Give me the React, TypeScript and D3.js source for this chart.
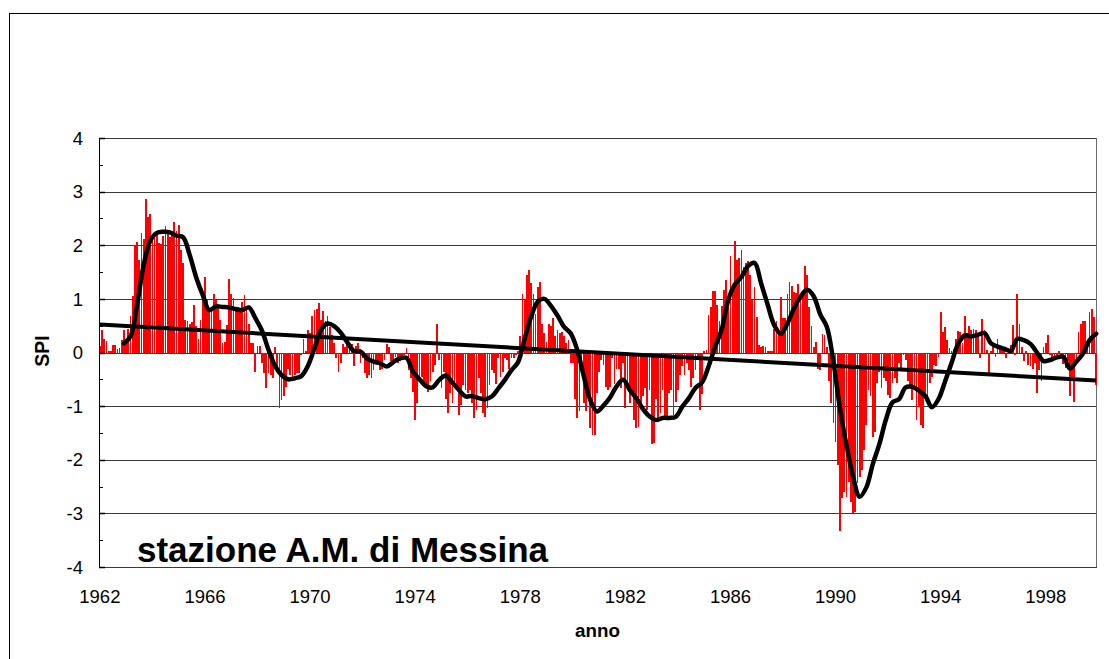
import React from "react";
import * as d3 from "d3";

// monthly SPI values, one row per year (Jan..Dec)
const spi1960s = [
  [0.13, 0.42, 0.26, 0.22, 0.02, 0.02, 0.14, 0.14, 0.07, 0.08, 0.23, 0.42], // 1962
  [0.17, 0.43, 0.68, 1.05, 2.0, 2.06, 1.72, 2.22, 2.12, 2.87, 2.53, 2.58],
  [2.19, 2.13, 2.25, 2.04, 2.02, 2.18, 2.36, 2.22, 2.16, 2.27, 2.44, 2.27],
  [2.38, 1.91, 1.66, 0.6, 0.58, 0.54, 0.56, 0.89, 0.49, 0.26, 0.6, 1.07],
  [1.4, 0.98, 0.79, 0.85, 1.09, 0.98, 0.89, 0.6, 0.17, 0.2, 0.51, 1.37],
  [1.09, 1.01, 0.85, 0.85, 0.79, 0.95, 1.07, 0.85, 0.53, 0.17, 0.17, -0.36],
  [0.13, 0.13, -0.2, -0.38, -0.67, -0.39, -0.42, -0.48, 0.11, -0.33, -1.04, -0.89],
  [-0.82, -0.64, -0.3, -0.42, -0.45, -0.42, -0.39, -0.39, -0.05, 0.26, 0.03, 0.42], // 1969
];
const spi1970s = [
  [0.36, 0.68, 0.8, 0.82, 0.92, 0.6, 0.78, 0.58, 0.68, 0.48, 0.33, 0.17], // 1970
  [-0.11, -0.36, -0.2, 0.16, 0.11, 0.17, 0.14, 0.15, -0.25, 0.13, 0.18, -0.2],
  [-0.1, -0.39, -0.48, -0.42, -0.48, -0.33, -0.15, -0.2, -0.33, -0.31, -0.14, 0.16],
  [0.1, -0.15, -0.23, -0.08, -0.2, -0.15, -0.08, -0.05, 0.08, -0.33, -0.48, -0.73],
  [-1.26, -0.95, -0.54, -0.45, -0.64, -0.58, -0.73, -0.54, -0.36, -0.23, 0.53, -0.14],
  [-0.67, -0.36, -0.86, -1.13, -0.76, -0.95, -0.67, -0.7, -1.17, -0.98, -0.61, -0.7],
  [-0.76, -0.7, -0.95, -1.22, -1.07, -0.48, -0.76, -1.12, -1.2, -1.04, -0.6, -0.33],
  [-0.39, -0.58, -0.11, -0.45, -0.36, -0.11, -0.14, -0.3, -0.11, -0.11, -0.05, 0.02],
  [0.31, 1.09, 0.98, 1.45, 1.53, 1.3, 1.09, 0.71, 1.23, 1.31, 0.53, 0.36],
  [0.2, 0.54, 0.5, 0.64, 0.3, 0.42, 0.36, 0.39, 0.3, 0.17, 0.23, -0.2], // 1979
];
const spi1980s = [
  [-0.2, -0.86, -1.23, -1.1, -0.39, -0.95, -1.1, -0.64, -1.4, -1.54, -1.54, -0.76], // 1980
  [-0.36, -0.14, -0.23, -0.64, -0.7, -0.64, -0.11, -0.58, -0.3, -0.3, -0.67, -0.2],
  [-1.04, -0.64, -0.95, -0.76, -1.26, -1.41, -1.38, -0.95, -0.82, -0.67, -1.07, -0.7],
  [-1.7, -1.68, -0.86, -1.26, -1.13, -0.7, -1.26, -1.2, -0.76, -0.7, -1.17, -0.92],
  [-0.7, -0.42, -0.26, -0.42, -0.2, -0.33, -0.64, -0.48, -0.33, -0.08, -1.07, -0.77],
  [0.03, 0.05, 0.7, 0.84, 1.15, 1.15, 0.89, 0.59, 0.87, 1.17, 1.36, 0.85],
  [1.8, 1.17, 2.08, 1.73, 1.76, 1.91, 1.6, 1.66, 1.7, 1.45, 0.98, 1.23],
  [0.67, 0.14, 0.11, 0.12, 0.11, 0.02, 0.03, 0.02, 0.43, 0.59, 0.42, 1.03],
  [0.64, 0.65, 1.09, 1.32, 1.24, 1.13, 1.11, 1.28, 1.03, 1.13, 1.61, 1.45],
  [0.85, 0.49, 0.11, 0.2, -0.3, -0.33, 0.35, 0.33, 0.11, -0.54, -0.95, -1.32], // 1989
];
const spi1990s = [
  [-1.66, -2.1, -3.33, -2.72, -2.6, -2.69, -2.41, -2.78, -2.99, -2.97, -2.44, -2.32], // 1990
  [-2.19, -1.82, -1.35, -0.7, -0.82, -1.57, -1.48, -0.57, -0.36, -0.67, -0.48, -0.54],
  [-0.79, -0.85, -0.57, -0.48, -0.57, -0.2, -0.3, -0.05, -0.14, -0.54, -0.64, -0.89],
  [-0.7, -1.26, -1.01, -1.35, -1.4, -0.82, -0.95, -0.57, -0.45, -0.23, -0.26, -0.08],
  [0.76, 0.39, 0.47, 0.23, 0.08, 0.03, 0.06, 0.26, 0.41, 0.39, 0.17, 0.68],
  [0.36, 0.49, 0.42, 0.43, 0.42, 0.28, -0.11, 0.62, 0.42, 0.05, -0.38, 0.02],
  [0.12, -0.08, 0.25, 0.08, 0.05, 0.11, -0.11, 0.08, 0.14, 0.51, -0.05, 1.1],
  [0.53, 0.11, -0.15, 0.02, -0.23, -0.26, -0.3, -0.2, -0.76, -0.33, -0.54, 0.11],
  [0.17, 0.33, -0.05, -0.11, -0.07, -0.11, 0.02, -0.08, -0.22, -0.28, -0.15, -0.82],
  [-0.45, -0.92, -0.14, 0.39, 0.54, 0.59, 0.59, 0.11, 0.75, 0.82, 0.67, -0.6], // 1999
];

// 12-month moving average (black curve), read every 3rd month starting Dec 1962
const movingAvgStart = 11;
const movingAvgStep = 3;
const movingAvg = [
  0.17, 0.3, 0.89, 1.63, 2.08, 2.23, 2.25, 2.24, 2.18, 2.15, 1.82, 1.4, 1.07, 0.79, 0.86, 0.85,
  0.84, 0.81, 0.79, 0.84, 0.64, 0.41, 0.05, -0.25, -0.42, -0.5, -0.48, -0.44, -0.25, 0.08, 0.42,
  0.54, 0.49, 0.37, 0.19, 0.03, 0.02, -0.11, -0.17, -0.2, -0.26, -0.18, -0.11, -0.1, -0.36, -0.5,
  -0.63, -0.65, -0.51, -0.43, -0.56, -0.7, -0.82, -0.81, -0.85, -0.87, -0.82, -0.67, -0.51,
  -0.33, -0.18, 0.26, 0.67, 0.95, 1.0, 0.87, 0.69, 0.48, 0.36, 0.05, -0.44, -0.89, -1.1, -0.99,
  -0.84, -0.63, -0.51, -0.7, -0.85, -1.05, -1.19, -1.26, -1.22, -1.22, -1.2, -1.01, -0.85,
  -0.66, -0.56, -0.26, 0.11, 0.43, 0.98, 1.27, 1.41, 1.61, 1.67, 1.29, 0.89, 0.51, 0.35, 0.54,
  0.82, 1.04, 1.17, 1.05, 0.71, 0.48, -0.17, -1.04, -1.73, -2.32, -2.69, -2.52, -2.08, -1.71,
  -1.25, -0.93, -0.87, -0.65, -0.64, -0.71, -0.81, -1.02, -0.87, -0.54, -0.19, 0.16, 0.32, 0.3,
  0.33, 0.36, 0.17, 0.11, 0.07, 0.03, 0.25, 0.23, 0.16, 0.0, -0.16, -0.14, -0.09, -0.08, -0.3,
  -0.17, -0.02, 0.23, 0.35,
];

// linear trend, value at first and last month
const trendEnds = [0.52, -0.52];

const firstYear = 1962;
const yTicks = [-4, -3, -2, -1, 0, 1, 2, 3, 4];
const yearLabels = [1962, 1966, 1970, 1974, 1978, 1982, 1986, 1990, 1994, 1998];

export default function App() {
  const W = 1109;
  const H = 659;
  const font = "'Liberation Sans', Arial, sans-serif";

  const spi = [...spi1960s, ...spi1970s, ...spi1980s, ...spi1990s].flat();
  const months = d3.range(spi.length);

  const x = d3.scaleBand<number>().domain(months).range([99, 1097]).paddingInner(0.2);
  const y = d3.scaleLinear().domain([-4, 4]).range([567, 138]);
  const cx = (m: number) => (x(m) as number) + x.bandwidth() / 2;

  const avgLine = d3
    .line<number>()
    .x((_, i) => cx(movingAvgStart + i * movingAvgStep))
    .y((v) => y(v))
    .curve(d3.curveCatmullRom.alpha(0.5));

  const last = months.length - 1;
  const minorTicks = d3.range(-3.5, 4, 1);

  return (
    <svg
      width={W}
      height={H}
      style={{ position: "absolute", left: 0, top: 0, background: "#fff" }}
      fontFamily={font}
    >
      <rect x={9.5} y={13.5} width={W} height={H} fill="none" stroke="#000" />

      {/* gridlines */}
      {yTicks.map((t) => (
        <line
          key={"g" + t}
          x1={99}
          x2={1097}
          y1={Math.round(y(t)) + 0.5}
          y2={Math.round(y(t)) + 0.5}
          stroke="#3a3a3a"
          strokeWidth={1}
        />
      ))}
      <line x1={1096.5} x2={1096.5} y1={138} y2={567} stroke="#6a6a6a" />

      {/* SPI bars */}
      <g shapeRendering="crispEdges">
        {spi.map((v, m) => (
          <rect
            key={m}
            x={x(m)}
            width={x.bandwidth()}
            y={y(Math.max(0, v))}
            height={Math.abs(y(v) - y(0))}
            fill="#ff0000"
          />
        ))}
      </g>

      {/* linear trend */}
      <line
        x1={cx(0)}
        x2={cx(last)}
        y1={y(trendEnds[0])}
        y2={y(trendEnds[1])}
        stroke="#000"
        strokeWidth={4}
      />

      {/* moving average */}
      <path
        d={avgLine(movingAvg) || ""}
        fill="none"
        stroke="#000"
        strokeWidth={4.5}
        strokeLinejoin="round"
        strokeLinecap="round"
      />

      {/* y axis */}
      <line x1={99.5} x2={99.5} y1={138} y2={567} stroke="#000" />
      {yTicks.map((t) => (
        <line
          key={"t" + t}
          x1={99}
          x2={105}
          y1={Math.round(y(t)) + 0.5}
          y2={Math.round(y(t)) + 0.5}
          stroke="#000"
          strokeWidth={1.5}
        />
      ))}
      {minorTicks.map((t) => (
        <line
          key={"mt" + t}
          x1={99}
          x2={103}
          y1={Math.round(y(t)) + 0.5}
          y2={Math.round(y(t)) + 0.5}
          stroke="#000"
        />
      ))}
      {yTicks.map((t) => (
        <text
          key={"l" + t}
          x={83}
          y={y(t)}
          dy="0.36em"
          textAnchor="end"
          fontSize={18.5}
          fill="#000"
        >
          {t}
        </text>
      ))}

      {/* x labels */}
      {yearLabels.map((yr) => (
        <text
          key={yr}
          x={cx((yr - firstYear) * 12)}
          y={603}
          textAnchor="middle"
          fontSize={18.5}
          fill="#000"
        >
          {yr}
        </text>
      ))}

      <text
        transform="translate(48.5,351) rotate(-90)"
        textAnchor="middle"
        fontSize={19.5}
        fontWeight="bold"
        fill="#000"
      >
        SPI
      </text>
      <text x={597.5} y={637} textAnchor="middle" fontSize={18.8} fontWeight="bold" fill="#000">
        anno
      </text>

      <text x={137} y={561.5} fontSize={35} fontWeight="bold" fill="#000">
        stazione A.M. di Messina
      </text>
    </svg>
  );
}
